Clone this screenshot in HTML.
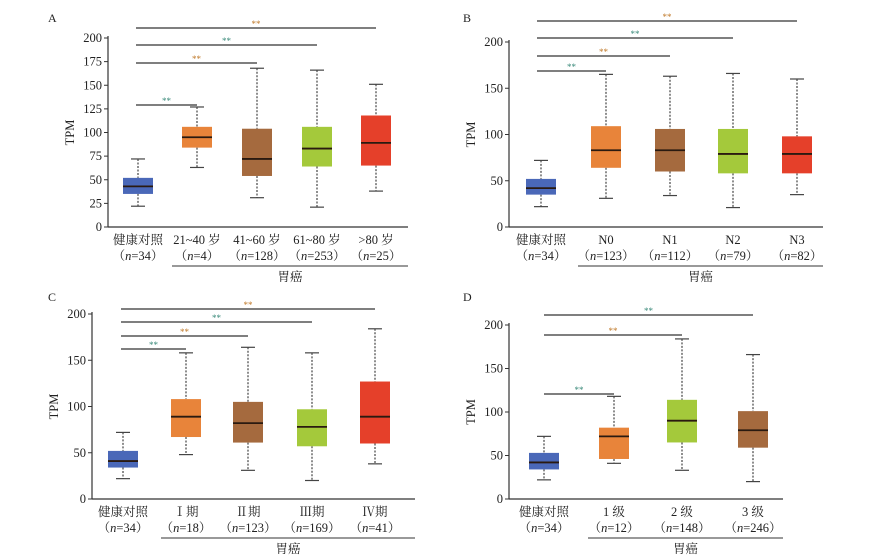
<!DOCTYPE html>
<html><head><meta charset="utf-8">
<style>
html,body{margin:0;padding:0;background:#fff;}
svg{display:block;font-family:"Liberation Serif","Noto Serif CJK SC","Noto Sans CJK SC",serif;}
</style></head>
<body>
<svg id="fig" width="887" height="560" viewBox="0 0 887 560" xmlns="http://www.w3.org/2000/svg"></svg>
<script>
// Panel A data
const catsA = ["健康对照","21~40 岁","41~60 岁","61~80 岁",">80 岁"];
const nA = ["34","4","128","253","25"];
const minA = [22,63,31,21,38];
const q1A = [35,84,54,64,65];
const medA = [43,95,72,83,89];
const q3A = [52,106,104,106,118];
const maxA = [72,127,168,166,151];
const ticksA = [0,25,50,75,100,125,150,175,200];
// Panel B data
const catsB = ["健康对照","N0","N1","N2","N3"];
const nB = ["34","123","112","79","82"];
const minB = [22,31,34,21,35];
const q1B = [35,64,60,58,58];
const medB = [42,83,83,79,79];
const q3B = [52,109,106,106,98];
const maxB = [72,165,163,166,160];
const ticksB = [0,50,100,150,200];
// Panel C data
const catsC = ["健康对照","Ⅰ期","Ⅱ期","Ⅲ期","Ⅳ期"];
const nC = ["34","18","123","169","41"];
const minC = [22,48,31,20,38];
const q1C = [34,67,61,57,60];
const medC = [41,89,82,78,89];
const q3C = [52,108,105,97,127];
const maxC = [72,158,164,158,184];
const ticksC = [0,50,100,150,200];
// Panel D data
const catsD = ["健康对照","1 级","2 级","3 级"];
const nD = ["34","12","148","246"];
const minD = [22,41,33,20];
const q1D = [34,46,65,59];
const medD = [42,72,90,79];
const q3D = [53,82,114,101];
const maxD = [72,118,184,166];
const ticksD = [0,50,100,150,200];

const svg = document.getElementById('fig');
const NS = 'http://www.w3.org/2000/svg';
function mk(tag, attrs, parent, text){
  const e = document.createElementNS(NS, tag);
  for (const k in attrs) e.setAttribute(k, attrs[k]);
  if (text !== undefined) e.textContent = text;
  (parent||svg).appendChild(e);
  return e;
}

function panel(cfg){
  const g = mk('g', {});
  
  
  const y = v => cfg.y0 - (v/200)*(cfg.y0 - cfg.y200);
  const x = i => cfg.centers[i];
  const lt = mk('text', {x:cfg.lx, y:cfg.ly, 'font-size':12, fill:'#222'}, g, cfg.letter);
  
  
  // axes
  const ya = mk('line', {x1:cfg.ax, x2:cfg.ax, y1:cfg.y200-2, y2:cfg.y0, stroke:'#333','stroke-width':1.2}, g);
  
  
  const xa = mk('line', {x1:cfg.ax, x2:cfg.axEnd, y1:cfg.y0, y2:cfg.y0, stroke:'#333','stroke-width':1.2}, g);
  
  
  cfg.ticks.forEach(t=>{
    mk('line', {x1:cfg.ax-4, x2:cfg.ax, y1:y(t), y2:y(t), stroke:'#333'}, g);
    const tl = mk('text', {x:cfg.ax-6, y:y(t)+4, 'font-size':12.5, 'text-anchor':'end', fill:'#222'}, g, t);
    
    
  });
  const yt = mk('text', {x:0, y:0, 'font-size':12.5, 'text-anchor':'middle', fill:'#222',
    transform:`translate(${cfg.ax-34},${(cfg.y0+cfg.y200)/2}) rotate(-90)`}, g, 'TPM');
  
  
  const bw = 30;
  cfg.cats.forEach((c,i)=>{
    const cx = x(i);
    const bg = mk('g', {}, g);
    
    
    mk('line', {x1:cx, x2:cx, y1:y(cfg.max[i]), y2:y(cfg.q3[i]), stroke:'#444','stroke-dasharray':'2,1.5','stroke-width':1.2}, bg);
    mk('line', {x1:cx, x2:cx, y1:y(cfg.q1[i]), y2:y(cfg.min[i]), stroke:'#444','stroke-dasharray':'2,1.5','stroke-width':1.2}, bg);
    mk('line', {x1:cx-7, x2:cx+7, y1:y(cfg.max[i]), y2:y(cfg.max[i]), stroke:'#444','stroke-width':1.2}, bg);
    mk('line', {x1:cx-7, x2:cx+7, y1:y(cfg.min[i]), y2:y(cfg.min[i]), stroke:'#444','stroke-width':1.2}, bg);
    mk('rect', {x:cx-bw/2, y:y(cfg.q3[i]), width:bw, height:y(cfg.q1[i])-y(cfg.q3[i]), fill:cfg.colors[i]}, bg);
    mk('line', {x1:cx-bw/2, x2:cx+bw/2, y1:y(cfg.med[i]), y2:y(cfg.med[i]), stroke:'#2a1a10','stroke-width':1.8}, bg);
    const l1 = mk('text', {x:cx, y:cfg.y0+17, 'font-size':12.5, 'text-anchor':'middle', fill:'#222'}, g, c);
    
    
    const l2 = mk('text', {x:cx, y:cfg.y0+33, 'font-size':12.5, 'text-anchor':'middle', fill:'#222'}, g);
    
    
    mk('tspan', {}, l2, '（');
    mk('tspan', {'font-style':'italic'}, l2, 'n');
    mk('tspan', {}, l2, '=' + cfg.n[i] + '）');
  });
  const ul = mk('line', {x1:cfg.ulStart, x2:cfg.axEnd, y1:cfg.y0+39, y2:cfg.y0+39, stroke:'#333','stroke-width':1}, g);
  
  
  const gl = mk('text', {x:(cfg.ulStart+cfg.axEnd)/2, y:cfg.y0+54, 'font-size':12.5, 'text-anchor':'middle', fill:'#222'}, g, '胃癌');
  
  
  cfg.brackets.forEach((by,k)=>{
    const to = x(k+1);
    const bl = mk('line', {x1:cfg.brL, x2:to, y1:by, y2:by, stroke:'#333','stroke-width':1.2}, g);
    
    
    const st = mk('text', {x:(cfg.brL+to)/2, y:by-1, 'font-size':9, 'text-anchor':'middle', fill:k%2?'#c07a2a':'#3a8a7a'}, g, '**');
    
    
  });
}
const C5 = ['#4a68b8','#e8843a','#a56a3e','#a4c93b','#e5402a'];
panel({letter:'A', lx:48, ly:22, ax:108, axEnd:408, y0:227, y200:38, centers:[138,197,257,317,376],
  cats:catsA, n:nA, min:minA, q1:q1A, med:medA, q3:q3A, max:maxA, ticks:ticksA, colors:C5,
  ulStart:172, brL:136, brackets:[105,63,45,28]});
panel({letter:'B', lx:463, ly:22, ax:509, axEnd:823, y0:227, y200:42, centers:[541,606,670,733,797],
  cats:catsB, n:nB, min:minB, q1:q1B, med:medB, q3:q3B, max:maxB, ticks:ticksB, colors:C5,
  ulStart:578, brL:537, brackets:[71,56,38,21]});
panel({letter:'C', lx:48, ly:301, ax:92, axEnd:415, y0:499, y200:314, centers:[123,186,248,312,375],
  cats:catsC, n:nC, min:minC, q1:q1C, med:medC, q3:q3C, max:maxC, ticks:ticksC, colors:C5,
  ulStart:161, brL:121, brackets:[349,336,322,309]});
panel({letter:'D', lx:463, ly:301, ax:509, axEnd:783, y0:499, y200:325, centers:[544,614,682,753],
  cats:catsD, n:nD, min:minD, q1:q1D, med:medD, q3:q3D, max:maxD, ticks:ticksD, colors:['#4a68b8','#e8843a','#a4c93b','#a56a3e'],
  ulStart:588, brL:544, brackets:[394,335,315]});
</script>
</body></html>
